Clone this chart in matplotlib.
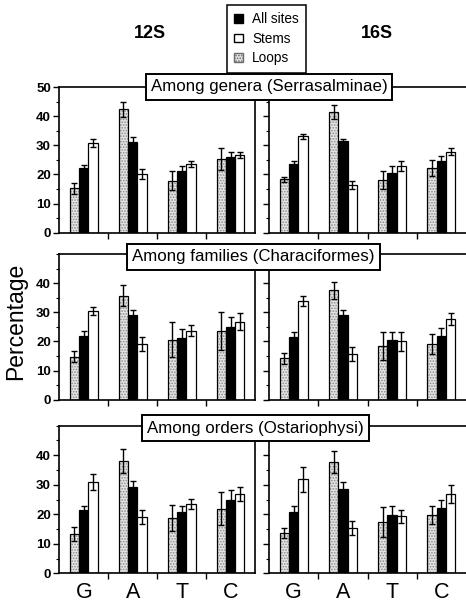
import numpy as np
import matplotlib.pyplot as plt
from matplotlib.patches import Patch
from matplotlib.ticker import MultipleLocator

plt.rcParams['font.family'] = ['Liberation Sans', 'DejaVu Sans']
plt.rcParams['hatch.linewidth'] = 0.8

bases = ['G', 'A', 'T', 'C']
genes = ['12S', '16S']
levels = ['Among genera (Serrasalminae)',
          'Among families (Characiformes)',
          'Among orders (Ostariophysi)']

# rows: genera, families, orders ; columns: G A T C
loops_12s = [[15.3, 42.3, 17.9, 25.3],
             [14.8, 35.7, 20.5, 23.7],
             [13.4, 38.0, 18.8, 21.8]]
loops_12s_err = [[1.9, 2.5, 3.4, 3.7],
                 [1.9, 3.6, 6.0, 6.5],
                 [2.4, 4.0, 4.4, 5.6]]
all_12s = [[22.2, 31.0, 21.3, 26.1],
           [21.9, 29.1, 21.3, 25.1],
           [21.6, 29.3, 20.8, 24.8]]
all_12s_err = [[1.1, 1.8, 1.6, 1.6],
               [1.6, 1.7, 3.0, 3.2],
               [1.1, 2.0, 2.0, 3.5]]
stems_12s = [[30.7, 20.0, 23.6, 26.8],
             [30.5, 19.1, 23.7, 26.8],
             [30.9, 19.1, 23.5, 26.9]]
stems_12s_err = [[1.4, 1.7, 1.0, 1.0],
                 [1.3, 2.4, 2.0, 2.9],
                 [2.7, 2.3, 1.8, 2.4]]

loops_16s = [[18.3, 41.4, 18.1, 22.2],
             [14.2, 37.5, 18.4, 19.1],
             [13.6, 37.7, 17.4, 19.7]]
loops_16s_err = [[0.8, 2.5, 3.2, 2.8],
                 [1.8, 3.0, 4.8, 3.4],
                 [1.7, 3.8, 5.0, 3.0]]
all_16s = [[23.6, 31.3, 20.5, 24.7],
           [21.4, 29.1, 20.5, 21.9],
           [20.7, 28.6, 19.7, 22.2]]
all_16s_err = [[1.1, 0.9, 2.5, 1.7],
               [1.7, 1.7, 2.7, 2.6],
               [2.0, 2.4, 3.0, 2.7]]
stems_16s = [[33.1, 16.4, 22.8, 27.8],
             [33.9, 15.7, 20.0, 27.7],
             [31.8, 15.3, 19.3, 26.9]]
stems_16s_err = [[0.8, 1.4, 1.7, 1.1],
                 [1.6, 2.3, 3.2, 2.0],
                 [4.3, 2.4, 2.2, 3.0]]

series = {
    '12S': [(loops_12s, loops_12s_err), (all_12s, all_12s_err), (stems_12s, stems_12s_err)],
    '16S': [(loops_16s, loops_16s_err), (all_16s, all_16s_err), (stems_16s, stems_16s_err)],
}

W, H = 466, 604
fig = plt.figure(figsize=(W / 100, H / 100), dpi=100)

# pixel geometry of the panels: (top, zero line)
rows_px = [(87, 232.7), (254, 399.7), (425.7, 573.3)]
cols_px = [(59.3, 255), (269, 466)]
title_px = [(269, 87), (253.5, 257), (255.5, 428)]

fills = ['#e4e4e4', 'black', 'white']
w = 0.19
x = np.arange(len(bases))
err_kw = dict(elinewidth=1.0, capsize=2.2, capthick=1.0, ecolor='black')

for r in range(3):
    top, zero = rows_px[r]
    for c, gene in enumerate(genes):
        left, right = cols_px[c]
        ax = fig.add_axes([left / W, 1 - zero / H, (right - left) / W, (zero - top) / H])
        for k, (vals, errs) in enumerate(series[gene]):
            pos = x + (k - 1) * w
            if k == 0:
                # stippled loops: grey dots, then a black outline on top
                ax.bar(pos, vals[r], w, color=fills[k], edgecolor='#8a8a8a',
                       hatch='......', linewidth=0)
                ax.bar(pos, vals[r], w, yerr=errs[r], fill=False, edgecolor='black',
                       linewidth=0.9, error_kw=err_kw)
            else:
                ax.bar(pos, vals[r], w, yerr=errs[r], color=fills[k], edgecolor='black',
                       linewidth=0.9, error_kw=err_kw)
        ax.set_xlim(-0.5, 3.5)
        ax.set_ylim(0, 50)
        for s in ax.spines.values():
            s.set_linewidth(1.2)
        if c == 1:
            ax.spines['right'].set_visible(False)
        ax.set_xticks([0.5, 1.5, 2.5])
        ax.set_xticklabels([])
        ax.tick_params(axis='x', which='major', direction='out', length=4, width=1)
        if r == 2:
            ax.set_xticks(x, minor=True)
            ax.set_xticklabels(bases, minor=True, fontsize=15.5)
            ax.tick_params(axis='x', which='minor', length=0, pad=6)
        ax.yaxis.set_minor_locator(MultipleLocator(5))
        if c == 0:
            ticks = list(range(0, 51 if r == 0 else 41, 10))
            ax.set_yticks(ticks)
            ax.set_yticklabels([str(v) for v in ticks], fontsize=9.5, fontweight='bold')
        else:
            ax.set_yticks(range(0, 51, 10))
            ax.set_yticklabels([])
        ax.tick_params(axis='y', which='major', direction='out', length=4, width=1, pad=2)
        ax.tick_params(axis='y', which='minor', direction='out', length=2.5, width=0.8)

    tx, ty = title_px[r]
    fig.text(tx / W, 1 - ty / H, levels[r], ha='center', va='center', fontsize=12.2,
             bbox=dict(boxstyle='square,pad=0.3', fc='white', ec='black', lw=1.4), zorder=5)

fig.text(150 / W, 1 - 33 / H, '12S', ha='center', va='center', fontsize=13, fontweight='bold')
fig.text(377 / W, 1 - 33 / H, '16S', ha='center', va='center', fontsize=13, fontweight='bold')
fig.text(16 / W, 1 - 321 / H, 'Percentage', rotation=90, ha='center', va='center', fontsize=16.5)

handles = [Patch(fc='black', ec='black'), Patch(fc='white', ec='black'),
           Patch(fc='#e4e4e4', ec='#6a6a6a', hatch='......')]
leg = fig.legend(handles, ['All sites', 'Stems', 'Loops'], loc='upper left',
                 bbox_to_anchor=(227 / W, 1 - 5 / H), fontsize=9.8, frameon=True,
                 fancybox=False, edgecolor='black', framealpha=1, handlelength=0.6,
                 handleheight=0.6, handletextpad=0.7, labelspacing=0.4, borderpad=0.55,
                 borderaxespad=0)
leg.get_frame().set_linewidth(1.1)

fig.savefig('out.png', dpi=100)
